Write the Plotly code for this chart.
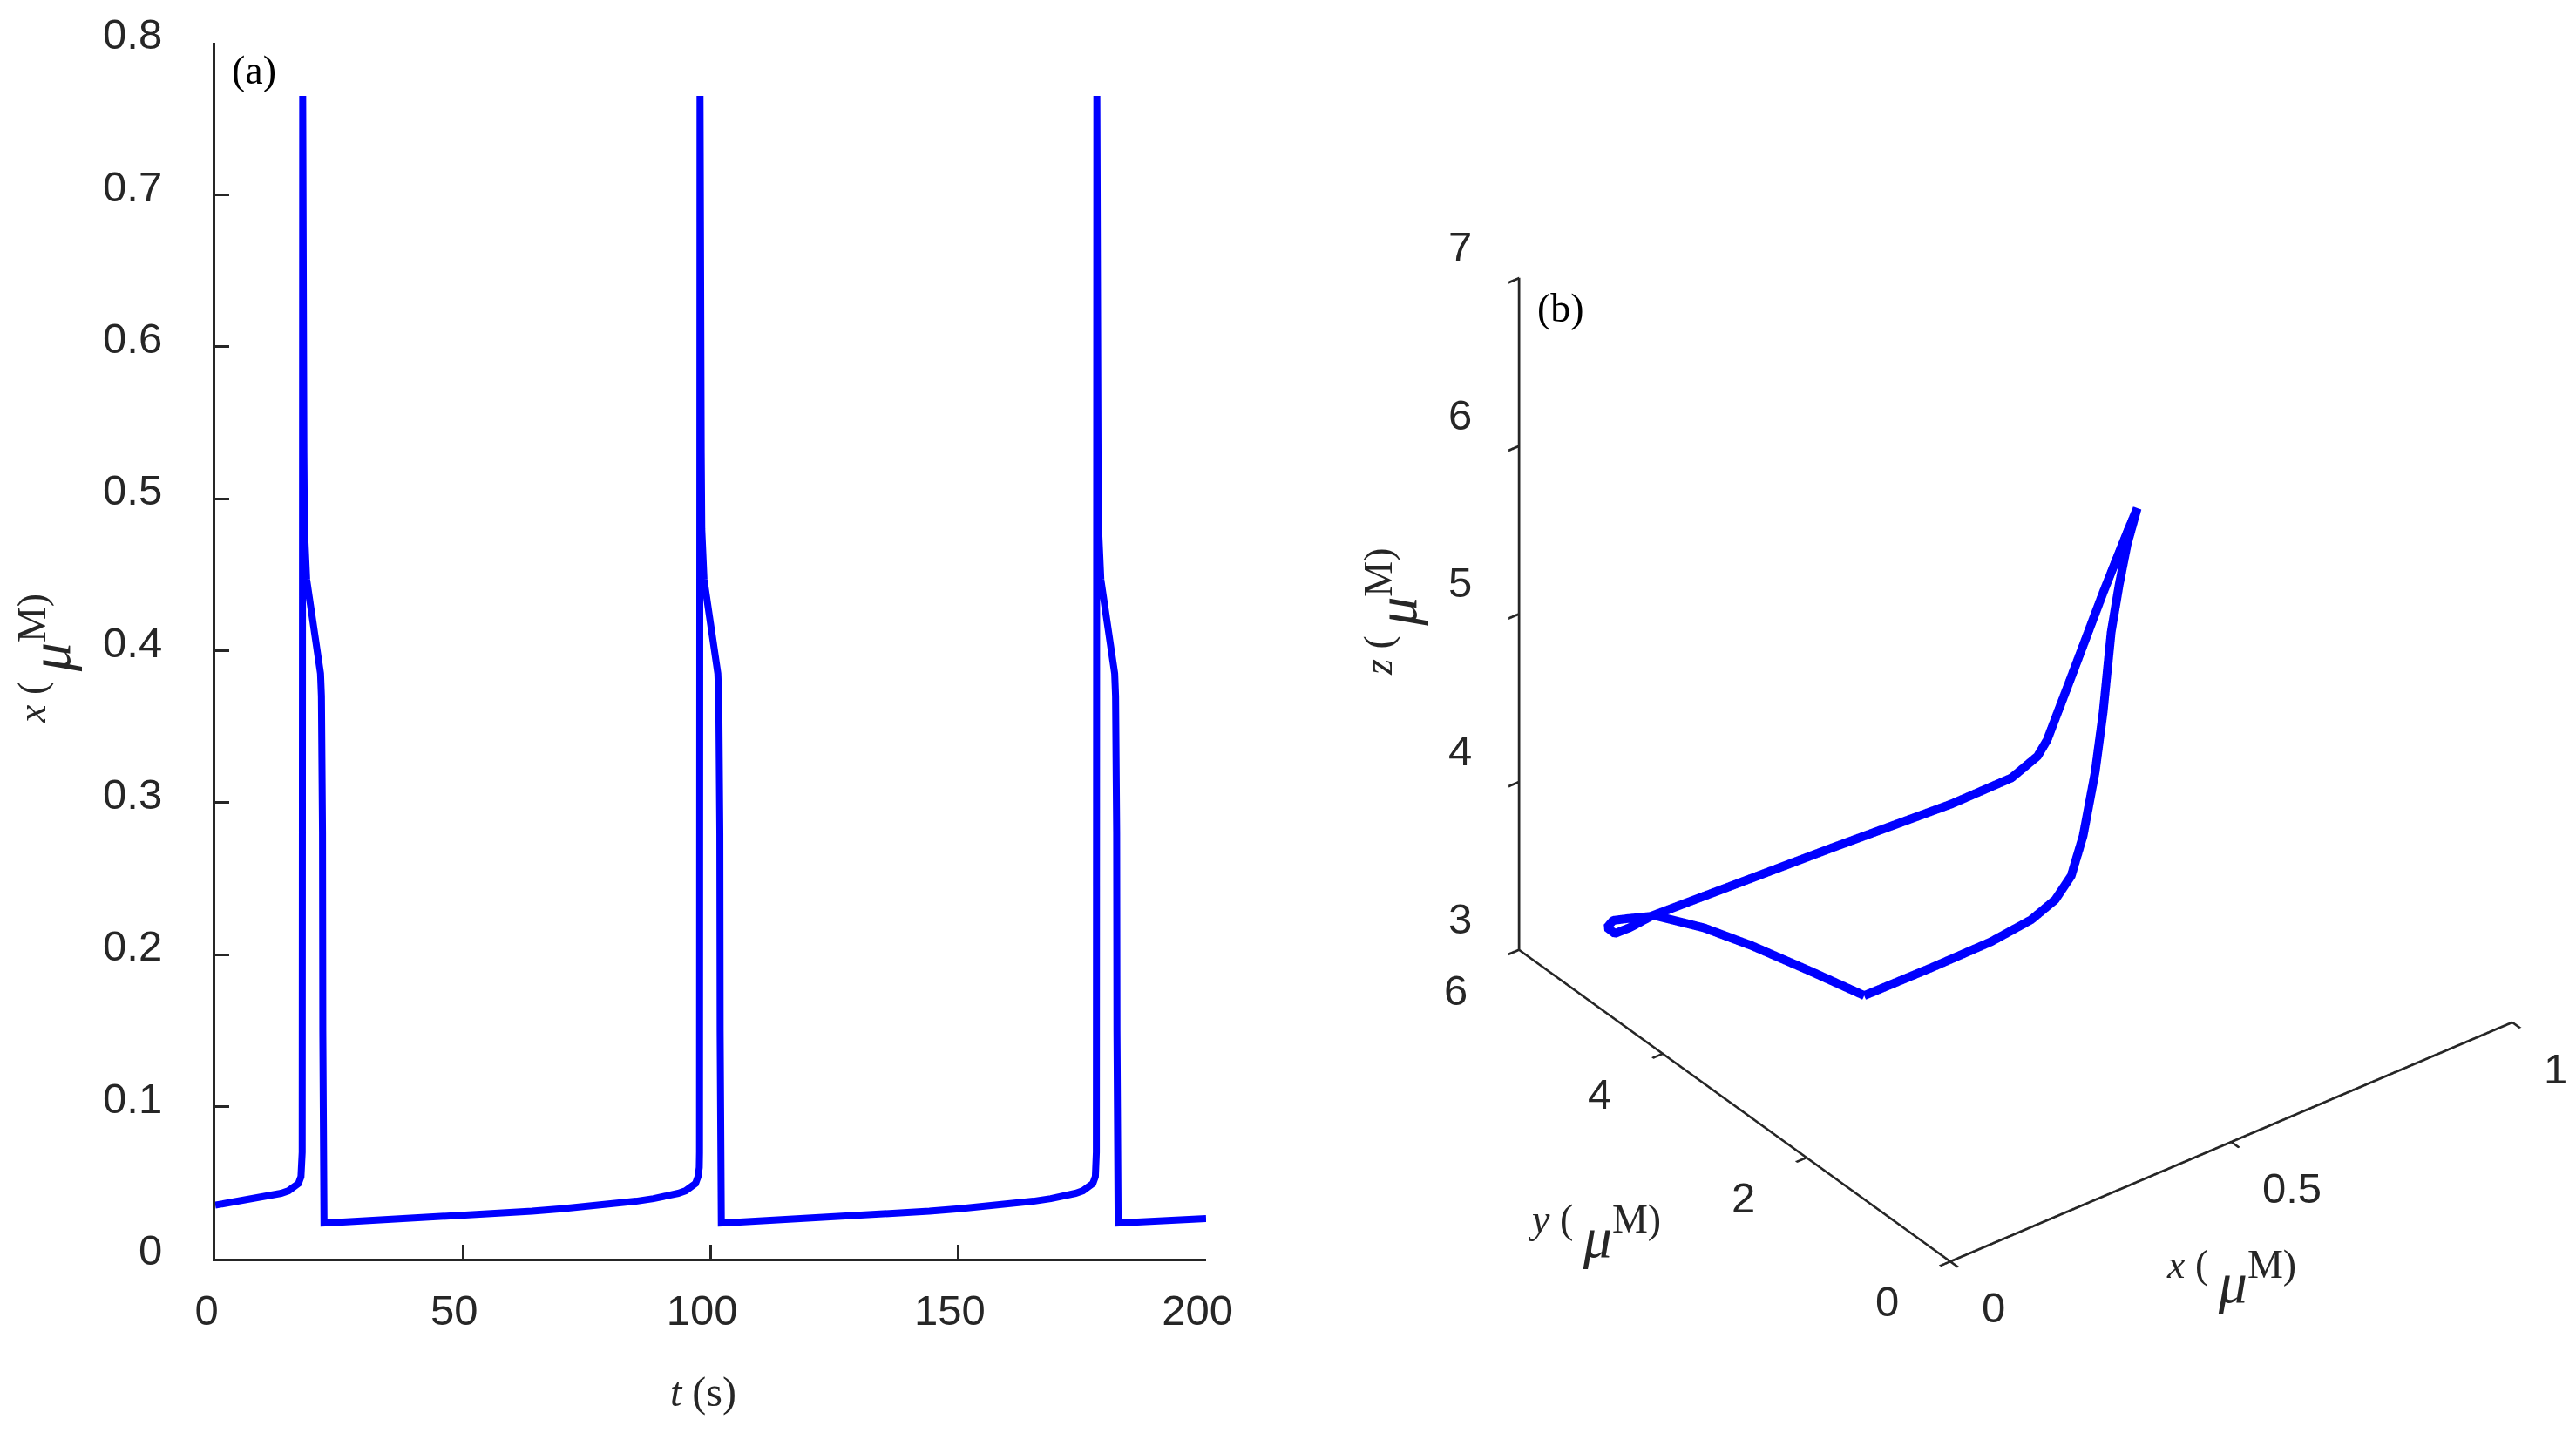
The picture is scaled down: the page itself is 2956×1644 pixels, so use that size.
import plotly.graph_objects as go

# ---------------- Panel (a): time series x(t) ----------------
t_vals = [
    0.0, 4.8, 8.3, 11.3, 13.3, 14.8, 16.0, 16.8, 17.3, 17.5,
    17.55, 17.59, 17.65, 17.73, 17.81, 17.89, 18.00, 18.15, 18.45, 18.95, 19.55, 20.15, 20.65, 21.00, 21.25, 21.43, 21.55, 21.65, 21.71, 21.75, 21.80, 21.95,
    24.95, 29.95, 35.95, 42.95, 49.95, 56.95, 63.95, 69.95, 75.95, 80.95, 84.95, 88.45, 91.45, 93.45, 94.95, 96.15, 96.95, 97.45, 97.70,
    97.75, 97.79, 97.85, 97.93, 98.01, 98.09, 98.20, 98.35, 98.65, 99.15, 99.75, 100.35, 100.85, 101.20, 101.45, 101.63, 101.75, 101.85, 101.91, 101.95, 102.00, 102.15,
    105.15, 110.15, 116.15, 123.15, 130.15, 137.15, 144.15, 150.15, 156.15, 161.15, 165.15, 168.65, 171.65, 173.65, 175.15, 176.35, 177.15, 177.65, 177.80,
    177.85, 177.89, 177.95, 178.03, 178.11, 178.19, 178.30, 178.45, 178.75, 179.25, 179.85, 180.45, 180.95, 181.30, 181.55, 181.73, 181.85, 181.95, 182.01, 182.05, 182.10, 182.25,
    185.25, 190.25, 196.25, 200.0,
]
x_vals = [
    0.0352, 0.0378, 0.0395, 0.0413, 0.0430, 0.0447, 0.0468, 0.0495, 0.0540, 0.0600,
    0.070, 0.300, 0.765, 0.720, 0.620, 0.530, 0.480, 0.460, 0.447, 0.436, 0.424, 0.412, 0.402, 0.394, 0.385, 0.370, 0.345, 0.280, 0.150, 0.060, 0.030, 0.0235,
    0.0240, 0.0248, 0.0258, 0.0270, 0.0282, 0.0296, 0.0312, 0.0328, 0.0345, 0.0362, 0.0378, 0.0395, 0.0413, 0.0430, 0.0447, 0.0468, 0.0495, 0.0540, 0.0600,
    0.070, 0.300, 0.765, 0.720, 0.620, 0.530, 0.480, 0.460, 0.447, 0.436, 0.424, 0.412, 0.402, 0.394, 0.385, 0.370, 0.345, 0.280, 0.150, 0.060, 0.030, 0.0235,
    0.0240, 0.0248, 0.0258, 0.0270, 0.0282, 0.0296, 0.0312, 0.0328, 0.0345, 0.0362, 0.0378, 0.0395, 0.0413, 0.0430, 0.0447, 0.0468, 0.0495, 0.0540, 0.0600,
    0.070, 0.300, 0.765, 0.720, 0.620, 0.530, 0.480, 0.460, 0.447, 0.436, 0.424, 0.412, 0.402, 0.394, 0.385, 0.370, 0.345, 0.280, 0.150, 0.060, 0.030, 0.0235,
    0.0240, 0.0248, 0.0258, 0.0264,
]
t_ticks = [0, 50, 100, 150, 200]
x_ticks = [0, 0.1, 0.2, 0.3, 0.4, 0.5, 0.6, 0.7, 0.8]
x_ticklabels = ["0", "0.1", "0.2", "0.3", "0.4", "0.5", "0.6", "0.7", "0.8"]

# ---------------- Panel (b): phase-space trajectory ----------------
traj_x = [0.024, 0.026, 0.029, 0.033, 0.038, 0.042, 0.044, 0.046, 0.048, 0.051, 0.055,
          0.370, 0.585, 0.690, 0.730, 0.745, 0.755, 0.762, 0.765, 0.765,
          0.720, 0.620, 0.530, 0.470, 0.445, 0.425, 0.410, 0.400, 0.380,
          0.290, 0.170, 0.024]
traj_y = [1.385, 2.133, 2.988, 3.686, 4.395, 4.826, 5.035, 5.135, 5.042, 4.848, 4.579,
          4.542, 4.557, 4.543, 4.493, 4.478, 4.216, 3.829, 3.521, 3.381,
          3.169, 2.497, 1.906, 1.548, 1.464, 1.475, 1.524, 1.667, 1.844,
          1.697, 1.594, 1.385]
traj_z = [4.121, 4.029, 3.915, 3.800, 3.645, 3.489, 3.411, 3.335, 3.325, 3.418, 3.564,
          3.531, 3.482, 3.492, 3.580, 3.659, 4.107, 4.716, 5.163, 5.350,
          5.265, 5.378, 5.403, 5.124, 4.828, 4.473, 4.241, 4.069, 3.924,
          3.967, 4.014, 4.121]
bx_ticks = [0, 0.5, 1]
bx_ticklabels = ["0", "0.5", "1"]
by_ticks = [0, 2, 4, 6]
bz_ticks = [3, 4, 5, 6, 7]

W, H = 2956, 1644
AX = "#262626"
BLUE = "#0000FF"
SANS = "Liberation Sans, Arial, sans-serif"
SERIF = "Liberation Serif, Times New Roman, serif"

fig = go.Figure()
fig.add_trace(go.Scatter(x=t_vals, y=x_vals, mode="lines",
                         line=dict(color=BLUE, width=8), showlegend=False,
                         xaxis="x", yaxis="y"))
fig.add_trace(go.Scatter3d(x=traj_x, y=traj_y, z=traj_z, mode="lines",
                           line=dict(color=BLUE, width=20), showlegend=False,
                           scene="scene"))

ax3 = dict(showgrid=False, zeroline=False, showbackground=False, showline=True,
           linecolor=AX, linewidth=6, ticks="outside", ticklen=15, tickwidth=6,
           tickcolor=AX, showticklabels=False,
           showspikes=False, title=dict(text=""), autorange=False)

# tick labels of the 3-D panel, placed at the tick positions of the scene
tickfont = dict(family=SANS, size=49, color=AX)
scene_ann = []
for v in bz_ticks:
    scene_ann.append(dict(x=0, y=6, z=v, text=str(v), xanchor="right", yanchor="middle",
                          xshift=-52, yshift=36))
for v in by_ticks:
    scene_ann.append(dict(x=0, y=v, z=3, text=str(v), xanchor="right", yanchor="middle",
                          xshift=-57, yshift=-46))
for v, s in zip(bx_ticks, bx_ticklabels):
    scene_ann.append(dict(x=v, y=0, z=3, text=s, xanchor="left", yanchor="middle",
                          xshift=34, yshift=-53))
for a in scene_ann:
    a.update(showarrow=False, font=tickfont)

K = 1.106
R = 2.5
CX, CY = 2313, 746         # screen centre of the 3-D box
HW, HH = 610, 735          # half sizes of the scene viewport
fig.update_layout(
    width=W, height=H,
    template="none",
    margin=dict(l=0, r=0, t=0, b=0, autoexpand=False),
    paper_bgcolor="white", plot_bgcolor="white",
    showlegend=False,
    xaxis=dict(domain=[247 / W, 1384 / W], range=[0, 200], tickvals=t_ticks,
               showline=True, linecolor=AX, linewidth=3, mirror=False,
               ticks="inside", ticklen=16, tickwidth=3, tickcolor=AX,
               showgrid=False, zeroline=False, automargin=False,
               tickfont=dict(family=SANS, size=49, color=AX),
               ticklabelstandoff=14, ticklabelshift=-10, anchor="y"),
    yaxis=dict(domain=[1 - 1444 / H, 1 - 49 / H], range=[0, 0.8],
               tickvals=x_ticks, ticktext=x_ticklabels,
               showline=True, linecolor=AX, linewidth=3, mirror=False,
               ticks="inside", ticklen=16, tickwidth=3, tickcolor=AX,
               showgrid=False, zeroline=False, automargin=False,
               tickfont=dict(family=SANS, size=49, color=AX),
               ticklabelstandoff=48, ticklabelshift=-10, anchor="x"),
    scene=dict(
        domain=dict(x=[(CX - HW) / W, (CX + HW) / W],
                    y=[1 - (CY + HH) / H, 1 - (CY - HH) / H]),
        aspectmode="manual", aspectratio=dict(x=1 * K, y=1 * K, z=1.139 * K),
        camera=dict(eye=dict(x=-0.5066 * R, y=-0.6602 * R, z=0.5544 * R),
                    up=dict(x=0, y=0, z=1), center=dict(x=0, y=0, z=0),
                    projection=dict(type="orthographic")),
        xaxis=dict(ax3, range=[0, 1], tickvals=bx_ticks),
        yaxis=dict(ax3, range=[0, 6], tickvals=by_ticks),
        zaxis=dict(ax3, range=[3, 7], tickvals=bz_ticks),
        bgcolor="white",
        annotations=scene_ann,
    ),
)

mu = "<span style='font-size:66px;baseline-shift:-28px'><i>μ</i></span>"
annots = [
    dict(text="(a)", x=291 / W, y=1 - 80 / H, font=dict(family=SERIF, size=46, color="black")),
    dict(text="(b)", x=1791 / W, y=1 - 353 / H, font=dict(family=SERIF, size=46, color="black")),
    dict(text="<i>t</i> (s)", x=807 / W, y=1 - 1597 / H, font=dict(family=SERIF, size=48, color=AX)),
    dict(text="<i>x</i> ( " + mu + "M)", x=52 / W, y=1 - 756 / H, textangle=-90,
         font=dict(family=SERIF, size=46, color=AX)),
    dict(text="<i>z</i> ( " + mu + "M)", x=1597 / W, y=1 - 702 / H, textangle=-90,
         font=dict(family=SERIF, size=46, color=AX)),
    dict(text="<i>y</i> ( " + mu + "M)", x=1830 / W, y=1 - 1414 / H,
         font=dict(family=SERIF, size=46, color=AX)),
    dict(text="<i>x</i> ( " + mu + "M)", x=2560 / W, y=1 - 1466 / H,
         font=dict(family=SERIF, size=46, color=AX)),
]
for a in annots:
    a.update(xref="paper", yref="paper", showarrow=False, xanchor="center", yanchor="middle")
fig.update_layout(annotations=annots)

fig.write_html("out.html", include_plotlyjs=True, full_html=True,
               config={"displayModeBar": False},
               post_script="document.body.style.margin='0';document.body.style.overflow='hidden';")
